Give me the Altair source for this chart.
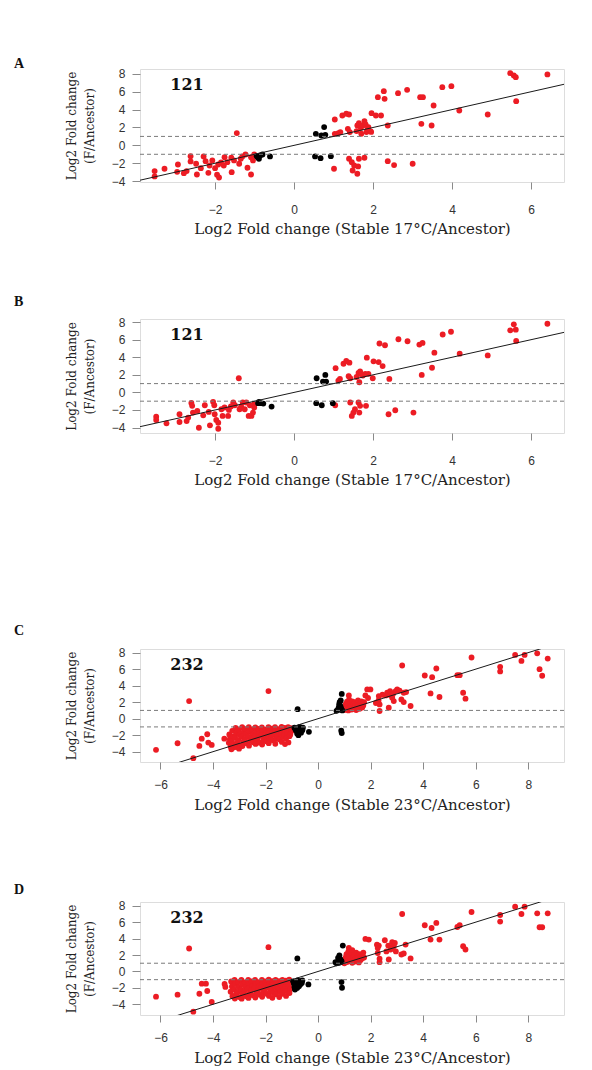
import altair as alt
import pandas as pd

RED = "#ec1c24"
BLACK = "#000000"
Y_TITLE = ["Log2 Fold change", "(F/Ancestor)"]
X_TITLE_17 = "Log2 Fold change (Stable 17°C/Ancestor)"
X_TITLE_23 = "Log2 Fold change (Stable 23°C/Ancestor)"
CUTOFFS = [1, -1]
FIT_SLOPE = 1.0
FIT_INTERCEPT = 0.0

# ---------------- Panel A (121, 17°C) ----------------
a_red = [(-3.53,-2.88),(-3.53,-3.48),(-3.28,-2.62),(-2.94,-2.14),(-2.96,-2.96),(-2.79,-3.11),(-2.72,-2.88),
         (-2.62,-1.21),(-2.62,-1.80),(-2.46,-3.26),(-2.48,-2.06),(-2.36,-2.55),(-2.29,-1.24),(-2.24,-1.77),
         (-2.17,-3.07),(-2.14,-2.25),(-2.07,-1.69),(-2.00,-2.55),(-1.95,-3.29),(-1.90,-3.60),(-1.92,-2.14),
         (-1.85,-1.91),(-1.78,-2.25),(-1.76,-1.32),(-1.69,-1.88),(-1.59,-1.39),(-1.58,-3.00),(-1.52,-1.69),
         (-1.45,1.37),(-1.39,-2.06),(-1.35,-1.50),(-1.31,-1.24),(-1.23,-1.02),(-1.18,-2.51),(-1.09,-3.26),
         (-1.09,-1.32),(-1.04,-1.69),(-1.01,-1.02),
         (1.01,-2.62),(1.03,2.89),(1.03,1.29),(1.12,1.37),(1.17,1.48),(1.22,3.34),(1.32,3.53),(1.39,3.45),
         (1.36,1.85),(1.41,1.48),(1.39,-1.50),(1.46,-1.88),(1.48,-2.81),(1.52,-2.25),(1.60,-3.18),(1.62,-2.36),
         (1.64,-1.50),(1.60,2.22),(1.64,2.48),(1.69,1.96),(1.74,2.22),(1.78,2.71),(1.81,2.33),(1.78,-1.39),
         (1.83,1.48),(1.88,2.04),(1.93,1.59),(1.96,3.60),(2.07,3.34),(2.12,5.39),(2.20,3.34),(2.27,6.06),
         (2.29,5.20),(2.37,2.22),(2.37,-1.77),(2.53,-2.21),(2.63,5.84),(2.86,6.21),(3.00,-2.06),(3.19,5.39),
         (3.22,2.41),(3.26,5.39),(3.48,2.22),(3.53,4.46),(3.75,6.51),(3.98,6.62),(4.18,3.90),(4.90,3.45),
         (5.47,8.07),(5.56,7.81),(5.61,7.63),(5.62,4.94),(6.41,7.93),(1.70,1.30),(1.86,1.80),(1.95,1.50),(1.58,1.60)]
a_black = [(-0.92,-1.32),(-0.86,-1.13),(-0.80,-1.02),(-0.61,-1.24),(-0.89,-1.50),(-0.95,-1.20),
           (0.55,1.29),(0.69,1.10),(0.76,2.04),(0.79,1.18),(0.53,-1.24),(0.67,-1.43),(0.93,-1.21)]

# ---------------- Panel B (121, 17°C) ----------------
b_red = [(-3.49,-2.76),(-3.49,-3.14),(-3.23,-3.52),(-2.90,-2.49),(-2.90,-3.37),(-2.72,-3.26),(-2.68,-2.87),
         (-2.58,-1.53),(-2.56,-2.30),(-2.41,-4.02),(-2.45,-2.11),(-2.30,-2.61),(-2.26,-1.46),(-2.13,-3.75),
         (-2.16,-2.22),(-2.05,-1.07),(-2.02,-1.46),(-2.01,-2.49),(-1.97,-3.14),(-1.92,-4.14),(-1.92,-3.45),
         (-1.84,-1.92),(-1.81,-2.68),(-1.76,-1.72),(-1.67,-2.68),(-1.65,-1.99),(-1.54,-1.15),(-1.50,-1.46),
         (-1.40,1.61),(-1.38,-1.92),(-1.34,-1.61),(-1.30,-1.15),(-1.21,-1.15),(-1.25,-1.92),(-1.15,-2.68),
         (-1.08,-2.68),(-1.04,-2.30),(-1.01,-1.72),(-1.01,-1.34),(-1.12,-1.46),(-2.60,-1.20),(-1.60,-1.60),
         (1.04,-1.46),(1.05,2.76),(1.12,1.34),(1.16,1.53),(1.25,3.26),(1.32,3.57),(1.40,3.38),(1.38,1.84),
         (1.42,1.61),(1.42,-1.15),(1.50,-2.30),(1.46,-2.68),(1.54,-1.92),(1.63,-1.15),(1.67,-1.53),(1.65,-2.30),
         (1.82,-1.53),(1.63,2.22),(1.67,2.38),(1.74,1.92),(1.80,2.11),(1.88,2.11),(1.84,3.95),(1.65,1.15),
         (1.99,1.61),(2.01,3.53),(2.14,3.45),(2.16,5.56),(2.24,2.99),(2.30,5.36),(2.41,1.53),(2.39,-2.49),
         (2.56,-2.03),(2.64,6.05),(2.87,5.82),(3.02,-2.30),(3.17,5.44),(3.25,5.63),(3.23,1.99),(3.49,2.80),
         (3.55,4.52),(3.76,6.59),(3.97,6.90),(4.19,4.41),(4.90,4.21),(5.47,7.06),(5.56,7.74),(5.61,7.14),
         (5.62,5.86),(6.41,7.81),(1.70,2.05),(1.58,1.75)]
b_black = [(-0.91,-1.23),(-0.84,-1.23),(-0.78,-1.27),(-0.57,-1.61),(-0.89,-1.07),
           (0.57,1.61),(0.79,1.99),(0.73,1.23),(0.81,1.23),(0.56,-1.23),(0.70,-1.46),(0.98,-1.23)]

# ---------------- Panel C (232, 23°C) ----------------
c_red_isolated = [(-6.17,-3.78),(-5.35,-2.98),(-4.91,2.13),(-4.75,-4.79),(-4.52,-3.30),(-4.43,-2.42),
                  (-4.22,-1.89),(-4.18,-2.90),(-4.05,-3.18),(-1.89,3.34),(-3.57,-2.42)]
c_red_dense = [(-3.38,-1.92),(-3.36,-2.48),(-3.40,-2.93),(-3.33,-3.38),(-3.30,-3.71),
               (-3.27,-1.47),(-3.24,-2.17),(-3.29,-2.71),(-3.22,-3.12),(-3.25,-3.52),
               (-3.14,-1.13),(-3.12,-1.77),(-3.16,-2.33),(-3.10,-2.96),(-3.13,-3.44),
               (-3.02,-1.36),(-2.99,-1.98),(-3.04,-2.61),(-2.97,-3.24),(-3.01,-3.63),
               (-2.89,-1.04),(-2.86,-1.69),(-2.91,-2.17),(-2.84,-2.77),(-2.88,-3.31),
               (-2.77,-1.26),(-2.74,-1.86),(-2.79,-2.44),(-2.72,-2.97),
               (-2.64,-1.02),(-2.61,-1.56),(-2.66,-2.19),(-2.59,-2.66),(-2.63,-3.27),
               (-2.52,-1.31),(-2.49,-1.94),(-2.54,-2.41),(-2.47,-2.86),
               (-2.39,-1.07),(-2.36,-1.66),(-2.41,-2.12),(-2.34,-2.57),(-2.38,-3.06),
               (-2.27,-1.24),(-2.24,-1.81),(-2.29,-2.31),(-2.22,-2.91),
               (-2.14,-1.05),(-2.11,-1.52),(-2.16,-2.04),(-2.09,-2.61),(-2.13,-3.14),
               (-2.02,-1.34),(-1.99,-1.76),(-2.04,-2.26),(-1.97,-2.74),
               (-1.89,-1.02),(-1.86,-1.49),(-1.91,-1.98),(-1.84,-2.46),(-1.88,-2.97),
               (-1.77,-1.21),(-1.74,-1.71),(-1.79,-2.14),(-1.72,-2.61),
               (-1.64,-1.04),(-1.61,-1.46),(-1.66,-1.92),(-1.59,-2.36),(-1.63,-3.04),
               (-1.52,-1.26),(-1.49,-1.61),(-1.54,-2.06),(-1.47,-2.51),
               (-1.39,-1.01),(-1.36,-1.42),(-1.41,-1.84),(-1.34,-2.21),(-1.38,-2.82),
               (-1.27,-1.13),(-1.24,-1.56),(-1.29,-1.96),(-1.22,-2.41),(-1.26,-3.08),
               (-1.14,-1.02),(-1.11,-1.31),(-1.16,-1.71),(-1.09,-2.12),(-1.13,-2.88),
               (-1.04,-1.16),(-1.02,-1.52),(-1.06,-1.91)]
c_red_pos = [(1.00,1.05),(1.02,1.40),(1.05,1.75),(1.08,1.20),(1.10,2.05),(1.12,1.55),(1.15,1.00),(1.18,2.30),
             (1.20,1.30),(1.22,1.85),(1.25,1.60),(1.28,1.10),(1.30,2.10),(1.32,1.45),(1.35,1.75),(1.38,1.25),
             (1.40,2.00),(1.42,1.55),(1.45,1.05),(1.48,1.85),(1.50,1.40),(1.52,2.20),(1.55,1.65),(1.58,1.20),
             (1.60,1.90),(1.62,1.50),(1.65,2.10),(1.68,1.35),(1.70,1.75),(1.72,1.60),(1.17,2.82),(1.75,2.00),
             (1.80,2.82),(1.87,3.54),(1.99,3.54),(2.31,2.74),(2.34,1.73),(2.34,0.93),(2.57,2.82),(2.63,3.14),
             (2.69,1.33),(2.74,3.34),(2.82,2.54),(2.88,2.13),(2.95,3.34),(3.01,3.54),(3.17,2.33),(3.20,6.44),
             (3.26,2.01),(3.26,3.14),(3.35,3.22),(3.52,1.53),(4.06,5.23),(4.28,3.06),(4.34,5.03),(4.50,6.08),
             (4.62,2.62),(5.30,5.27),(5.39,5.27),(5.52,3.14),(5.61,2.42),(5.84,7.41),(6.93,6.28),(6.93,5.72),
             (7.50,7.72),(7.74,7.00),(7.86,7.72),(8.34,7.92),(8.43,6.00),(8.53,5.20),(8.74,7.28),
             (2.45,2.90),(2.20,1.90),(2.72,2.90),(2.85,3.00),(2.30,2.20),(1.90,2.50),(3.10,3.40)]
c_black = [(-0.90,-1.10),(-0.85,-1.40),(-0.80,-1.80),(-0.78,-1.20),(-0.75,-2.00),(-0.72,-1.50),(-0.70,-1.00),
           (-0.68,-1.30),(-0.65,-1.70),(-0.62,-1.20),(-0.60,-1.40),(-0.58,-1.10),(-0.78,1.15),(-0.35,-1.60),
           (0.70,0.95),(0.75,1.05),(0.78,1.30),(0.80,1.70),(0.82,2.00),(0.85,1.50),(0.88,1.20),(0.90,3.00),
           (0.86,2.20),(0.88,-1.45),(0.90,-1.75),(0.92,1.00)]

# ---------------- Panel D (232, 23°C) ----------------
d_red_isolated = [(-6.17,-3.07),(-5.35,-2.83),(-4.91,2.79),(-4.75,-4.89),(-4.52,-2.71),(-4.43,-1.49),
                  (-4.27,-1.49),(-4.22,-2.38),(-4.05,-3.72),(-1.89,2.95)]
d_red_dense = [(-3.56,-1.52),(-3.53,-1.88),
               (-3.31,-1.22),(-3.28,-1.83),(-3.33,-2.47),(-3.26,-3.02),
               (-3.18,-1.03),(-3.15,-1.54),(-3.20,-2.18),(-3.13,-2.81),(-3.17,-3.29),
               (-3.05,-1.31),(-3.02,-1.92),(-3.07,-2.52),(-3.00,-3.12),
               (-2.92,-1.02),(-2.89,-1.61),(-2.94,-2.23),(-2.87,-2.71),(-2.91,-3.31),
               (-2.79,-1.33),(-2.76,-1.88),(-2.81,-2.41),(-2.74,-3.02),
               (-2.66,-1.04),(-2.63,-1.62),(-2.68,-2.11),(-2.61,-2.68),(-2.65,-3.22),
               (-2.53,-1.21),(-2.50,-1.79),(-2.55,-2.32),(-2.48,-2.91),
               (-2.40,-1.02),(-2.37,-1.52),(-2.42,-2.03),(-2.35,-2.62),(-2.39,-3.18),
               (-2.27,-1.31),(-2.24,-1.82),(-2.29,-2.28),(-2.22,-2.83),
               (-2.14,-1.03),(-2.11,-1.48),(-2.16,-1.98),(-2.09,-2.52),(-2.13,-3.08),
               (-2.01,-1.22),(-1.98,-1.71),(-2.03,-2.18),(-1.96,-2.72),
               (-1.88,-1.01),(-1.85,-1.52),(-1.90,-1.92),(-1.83,-2.41),(-1.87,-2.98),
               (-1.75,-1.18),(-1.72,-1.68),(-1.77,-2.12),(-1.70,-2.58),(-1.74,-3.21),
               (-1.62,-1.02),(-1.59,-1.41),(-1.64,-1.88),(-1.57,-2.31),(-1.61,-2.79),
               (-1.49,-1.19),(-1.46,-1.62),(-1.51,-2.02),(-1.44,-2.48),(-1.48,-3.11),
               (-1.36,-1.03),(-1.33,-1.38),(-1.38,-1.81),(-1.31,-2.22),(-1.35,-2.71),
               (-1.23,-1.12),(-1.20,-1.52),(-1.25,-1.91),(-1.18,-2.38),(-1.22,-2.98),
               (-1.10,-1.01),(-1.07,-1.32),(-1.12,-1.71),(-1.05,-2.11),(-1.09,-2.62)]
d_red_pos = [(1.00,1.00),(1.02,1.35),(1.05,1.70),(1.08,2.10),(1.10,1.15),(1.12,1.50),(1.15,2.40),(1.17,2.85),
             (1.20,1.90),(1.22,1.25),(1.25,1.60),(1.28,2.20),(1.30,1.05),(1.33,1.40),(1.35,1.80),(1.38,2.00),
             (1.40,1.20),(1.43,1.55),(1.45,2.30),(1.48,1.70),(1.50,1.30),(1.52,1.95),(1.55,1.50),(1.58,2.10),
             (1.60,1.75),(1.62,1.40),(1.65,2.00),(1.68,1.60),(1.70,1.85),(1.72,2.30),(1.75,1.70),(1.55,1.10),
             (1.30,2.60),(1.80,3.96),(1.93,3.88),(2.31,3.15),(2.34,1.54),(2.34,1.13),(2.54,3.80),(2.67,3.15),
             (2.69,1.45),(2.76,2.67),(2.82,3.56),(2.88,3.07),(2.92,3.47),(3.17,2.06),(3.20,6.99),(3.26,2.18),
             (3.33,3.27),(3.52,1.58),(4.06,5.62),(4.28,3.88),(4.32,5.29),(4.50,5.90),(4.62,3.88),(5.30,5.41),
             (5.39,5.62),(5.52,3.07),(5.61,2.67),(5.84,7.23),(6.93,6.87),(6.93,6.07),(7.50,7.88),(7.74,6.99),
             (7.86,7.88),(8.34,7.07),(8.43,5.38),(8.53,5.38),(8.74,7.07),(2.24,3.25),(2.27,2.84),(2.27,2.24),
             (2.60,2.44),(2.96,2.44),(2.81,2.84)]
d_black = [(-0.95,-1.20),(-0.92,-1.50),(-0.90,-1.90),(-0.88,-2.20),(-0.85,-1.30),(-0.82,-1.70),(-0.80,-2.00),
           (-0.78,-1.10),(-0.76,-1.50),(-0.73,-1.80),(-0.70,-1.30),(-0.68,-1.60),(-0.65,-1.20),(-0.62,-1.40),
           (-0.60,-1.10),(-0.79,1.58),(-0.37,-1.58),
           (0.66,1.13),(0.70,1.00),(0.76,1.66),(0.78,1.30),(0.81,1.94),(0.83,1.50),(0.85,1.45),(0.87,1.15),
           (0.89,1.25),(0.94,3.15),(0.89,-1.29),(0.91,-1.98),(0.80,1.05)]

# axes
X_TICKS_17 = [-2, 0, 2, 4, 6]
X_TICKS_23 = [-6, -4, -2, 0, 2, 4, 6, 8]
Y_TICKS = [-4, -2, 0, 2, 4, 6, 8]
X_DOM_17 = [-3.90, 6.83]
X_DOM_23 = [-6.78, 9.36]


def frame(red, black):
    rows = [{"x": x, "y": y, "g": "red"} for x, y in red]
    rows += [{"x": x, "y": y, "g": "black"} for x, y in black]
    return pd.DataFrame(rows)


def panel(red, black, xdom, ydom, xticks, xtitle, letter, letter_dy, num, h, lab_pad, tit_pad):
    df = frame(red, black)
    xs = alt.Scale(domain=xdom, nice=False, zero=False)
    ys = alt.Scale(domain=ydom, nice=False, zero=False)
    xax = alt.Axis(values=xticks, title=xtitle, grid=False, domain=False, tickSize=7,
                   tickColor="#8a8a8a", labelFont="Liberation Sans", labelFontSize=12,
                   labelColor="#333333", labelPadding=lab_pad, titleFont="DejaVu Serif",
                   titleFontSize=15, titleFontWeight="normal", titleColor="#222222",
                   titlePadding=tit_pad, labelFlush=False)
    yax = alt.Axis(values=Y_TICKS, title=Y_TITLE, grid=False, domain=False, tickSize=8,
                   tickColor="#8a8a8a", labelFont="Liberation Sans", labelFontSize=12,
                   labelColor="#333333", labelPadding=7, titleFont="DejaVu Serif",
                   titleFontSize=12, titleFontWeight="normal", titleColor="#222222",
                   titlePadding=15, titleLineHeight=18, labelFlush=False)
    pts = alt.Chart(df).mark_circle(size=34, opacity=1).encode(
        x=alt.X("x:Q", scale=xs, axis=xax),
        y=alt.Y("y:Q", scale=ys, axis=yax),
        color=alt.Color("g:N", scale=alt.Scale(domain=["red", "black"], range=[RED, BLACK]),
                        legend=None),
    )
    hl = alt.Chart(pd.DataFrame({"h": CUTOFFS})).mark_rule(
        color="#7a7a7a", strokeDash=[4, 3], strokeWidth=1
    ).encode(y=alt.Y("h:Q", scale=ys, axis=yax))
    fit = alt.Chart(pd.DataFrame({"x": xdom})).transform_calculate(
        y=f"{FIT_INTERCEPT} + {FIT_SLOPE} * datum.x"
    ).mark_line(color="#1a1a1a", strokeWidth=1, clip=True).encode(
        x=alt.X("x:Q", scale=xs, axis=xax), y=alt.Y("y:Q", scale=ys, axis=yax)
    )
    num_t = alt.Chart(pd.DataFrame({"t": [num]})).mark_text(
        font="DejaVu Serif", fontWeight="bold", fontSize=16, align="center",
        baseline="middle", color="#111111"
    ).encode(x=alt.value(47), y=alt.value(16), text="t:N")
    let_t = alt.Chart(pd.DataFrame({"t": [letter]})).mark_text(
        font="Liberation Serif", fontWeight="bold", fontSize=14, align="left",
        baseline="middle", color="#111111"
    ).encode(x=alt.value(-126), y=alt.value(letter_dy), text="t:N")
    return alt.layer(pts, hl, fit, num_t, let_t).properties(width=424, height=h)


pA = panel(a_red, a_black, X_DOM_17, [-4.10, 8.54], X_TICKS_17, X_TITLE_17, "A", -5, "121", 113, 15, 6)
pB = panel(b_red, b_black, X_DOM_17, [-4.62, 8.35], X_TICKS_17, X_TITLE_17, "B", -17, "121", 114, 15, 6)
pC = panel(c_red_isolated + c_red_dense + c_red_pos, c_black, X_DOM_23,
           [-5.25, 8.44], X_TICKS_23, X_TITLE_23, "C", -18, "232", 113, 10, 7)
pD = panel(d_red_isolated + d_red_dense + d_red_pos, d_black, X_DOM_23,
           [-5.30, 8.45], X_TICKS_23, X_TITLE_23, "D", -12, "232", 113, 10, 7)

top = alt.vconcat(pA, pB, spacing=57)
bottom = alt.vconcat(pC, pD, spacing=69)
chart = alt.vconcat(top, bottom, spacing=135).properties(
    padding={"left": 5, "top": 48, "right": 5, "bottom": 5}
).configure_view(stroke="#8a8a8a", strokeWidth=1).configure(background="white")

chart.save("out.html", embed_options={"renderer": "svg", "actions": False})
